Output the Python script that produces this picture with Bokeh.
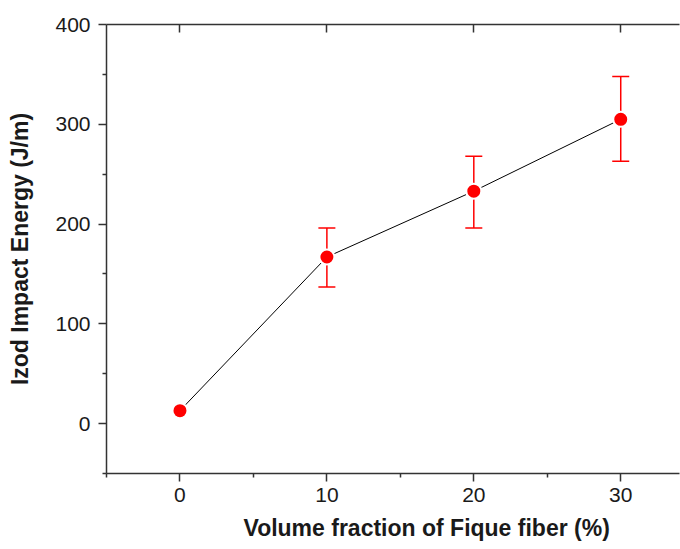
from bokeh.plotting import figure
from bokeh.models import (ColumnDataSource, Whisker, TeeHead, LinearAxis, Range1d, Title,
                          FixedTicker, CustomJSTickFormatter)
from bokeh.embed import file_html
from bokeh.resources import INLINE

fraction = [0, 10, 20, 30]
energy = [13, 167, 233, 305]
err_upper = [13, 196, 268, 348]
err_lower = [13, 137, 196, 263]

x_ticks = [0, 10, 20, 30]
y_ticks = [0, 100, 200, 300, 400]

FONT = "Liberation Sans"
AX = "#333333"

p = figure(width=680, height=549, output_backend="svg", toolbar_location=None,
           x_range=Range1d(-5, 34), y_range=Range1d(-50, 400),
           x_axis_location=None, y_axis_location=None,
           min_border_left=106, min_border_top=24, min_border_right=1, min_border_bottom=76)
p.outline_line_color = None
p.xgrid.visible = False
p.ygrid.visible = False
p.background_fill_color = "white"

def style(ax, tick_font="21px"):
    ax.axis_line_color = AX
    ax.axis_line_width = 1.5
    ax.major_tick_line_color = AX
    ax.major_tick_line_width = 1.5
    ax.minor_tick_line_color = AX
    ax.minor_tick_line_width = 1.5
    ax.major_label_text_font = FONT
    ax.major_label_text_font_size = tick_font
    ax.major_label_text_color = "#1a1a1a"

left = LinearAxis(ticker=FixedTicker(ticks=y_ticks, minor_ticks=[-50, 50, 150, 250, 350]))
style(left)
left.major_tick_out = 8
left.major_tick_in = 0
left.minor_tick_out = 4
left.minor_tick_in = 0
left.major_label_standoff = 8
left.axis_label = "Izod Impact Energy (J/m)"
left.axis_label_text_font = FONT
left.axis_label_text_font_size = "23px"
left.axis_label_text_font_style = "bold"
left.axis_label_text_color = "#1a1a1a"
left.axis_label_standoff = 19
p.add_layout(left, "left")

bottom = LinearAxis(ticker=FixedTicker(ticks=x_ticks, minor_ticks=[-5, 5, 15, 25]))
style(bottom)
bottom.major_tick_out = 8
bottom.major_tick_in = 0
bottom.minor_tick_out = 4
bottom.minor_tick_in = 0
bottom.major_label_standoff = 6
p.add_layout(bottom, "below")

top = LinearAxis(ticker=FixedTicker(ticks=x_ticks, minor_ticks=[]),
                 formatter=CustomJSTickFormatter(code="return ''"))
style(top)
top.major_tick_in = 8
top.major_tick_out = 0
top.major_label_standoff = 0
p.add_layout(top, "above")

xt = Title(text="Volume fraction of Fique fiber (%)", align="left", offset=137,
           text_font=FONT, text_font_size="23px", text_font_style="bold",
           text_color="#1a1a1a", standoff=16, vertical_align="bottom")
p.add_layout(xt, "below")

src = ColumnDataSource(dict(x=fraction, y=energy))
idx = [i for i in range(len(fraction)) if err_upper[i] - err_lower[i] > 5]
esrc = ColumnDataSource(dict(x=[fraction[i] for i in idx],
                             upper=[err_upper[i] for i in idx],
                             lower=[err_lower[i] for i in idx]))

p.line("x", "y", source=src, line_color="black", line_width=1)
w = Whisker(base="x", upper="upper", lower="lower", source=esrc,
            line_color="#ff0000", line_width=1.5,
            upper_head=TeeHead(size=17, line_color="#ff0000", line_width=1.5),
            lower_head=TeeHead(size=17, line_color="#ff0000", line_width=1.5))
p.add_layout(w)
p.scatter("x", "y", source=src, size=14, fill_color="#ff0000",
          line_color="white", line_width=3)
p.scatter("x", "y", source=src, size=13, fill_color="#ff0000", line_color="#ff0000", line_width=0)

open("out.html", "w").write(file_html(p, INLINE))
